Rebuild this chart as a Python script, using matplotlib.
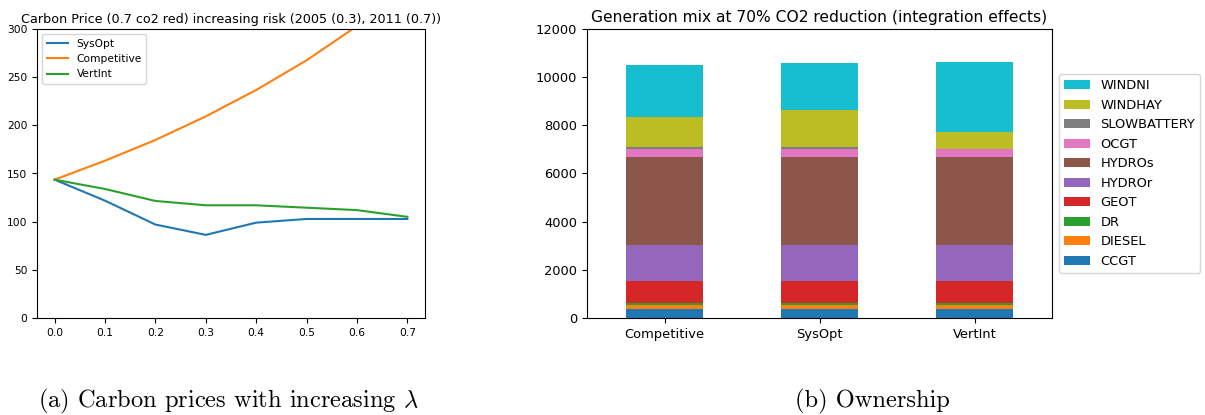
import matplotlib
matplotlib.use("Agg")
import matplotlib.pyplot as plt
import pandas as pd

# left panel: carbon price vs risk aversion
lam = [0.0, 0.1, 0.2, 0.3, 0.4, 0.5, 0.6, 0.7]
sysopt = [143.6, 121.8, 97.0, 86.3, 99.0, 102.8, 102.8, 102.8]
competitive = [143.6, 163.3, 184.8, 209.3, 236.7, 267.5, 303.0, 345.0]
vertint = [143.6, 133.9, 121.5, 117.0, 117.0, 114.5, 112.0, 105.0]

# right panel: generation mix
owners = ["Competitive", "SysOpt", "VertInt"]
techs = ["CCGT", "DIESEL", "DR", "GEOT", "HYDROr", "HYDROs", "OCGT",
         "SLOWBATTERY", "WINDHAY", "WINDNI"]
CCGT = [390, 390, 390]
DIESEL = [165, 165, 165]
DR = [85, 85, 85]
GEOT = [885, 885, 885]
HYDROr = [1523, 1523, 1523]
HYDROs = [3626, 3626, 3626]
OCGT = [332, 332, 332]
SLOWBATTERY = [84, 84, 5]
WINDHAY = [1260, 1536, 700]
WINDNI = [2145, 1979, 2935]

mix = pd.DataFrame({"CCGT": CCGT, "DIESEL": DIESEL, "DR": DR, "GEOT": GEOT,
                    "HYDROr": HYDROr, "HYDROs": HYDROs, "OCGT": OCGT,
                    "SLOWBATTERY": SLOWBATTERY, "WINDHAY": WINDHAY,
                    "WINDNI": WINDNI}, index=owners)

fig = plt.figure(figsize=(12.05, 4.15), dpi=100)

# (a)
ax1 = fig.add_axes([37 / 1205, 1 - 318 / 415, 388 / 1205, 289 / 415])
ax1.plot(lam, sysopt, label="SysOpt")
ax1.plot(lam, competitive, label="Competitive")
ax1.plot(lam, vertint, label="VertInt")
ax1.set_ylim(0, 300)
ax1.tick_params(labelsize=7.7)
ax1.set_title("Carbon Price (0.7 co2 red) increasing risk (2005 (0.3), 2011 (0.7))",
              fontsize=9.2, pad=4)
ax1.legend(loc="upper left", fontsize=7.7)

# (b)
ax2 = fig.add_axes([587 / 1205, 1 - 318 / 415, 465 / 1205, 289 / 415])
mix[techs].plot.bar(stacked=True, ax=ax2, rot=0, legend=False)
ax2.set_ylim(0, 12000)
ax2.tick_params(labelsize=9.4)
ax2.set_title("Generation mix at 70% CO2 reduction (integration effects)",
              fontsize=11.2, pad=5)
h, l = ax2.get_legend_handles_labels()
ax2.legend(h[::-1], l[::-1], loc="center left", bbox_to_anchor=(1.0, 0.5),
           fontsize=9.4)

# captions
plt.rcParams["mathtext.fontset"] = "cm"
fig.text(38 / 1205, 1 - 401 / 415, r"(a) Carbon prices with increasing $\lambda$",
         family="cmr10", fontsize=17.6, va="center")
fig.text(795 / 1205, 1 - 401 / 415, "(b) Ownership",
         family="cmr10", fontsize=17.6, va="center")

fig.savefig("out.png", dpi=100)
